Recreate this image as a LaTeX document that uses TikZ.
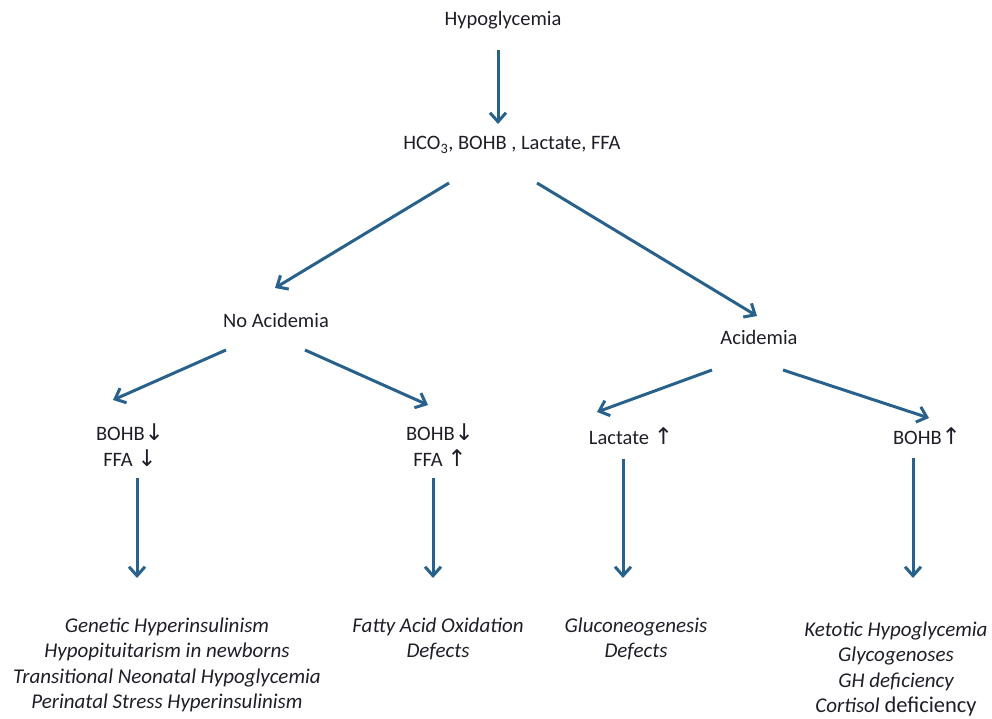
\documentclass[tikz,border=0pt]{standalone}
\usepackage{fontspec}
\setmainfont{Carlito}
\newfontfamily\arrfont{DejaVu Sans}
\usetikzlibrary{arrows.meta}
\definecolor{arrowblue}{RGB}{40,98,140}
\definecolor{txtdark}{RGB}{30,30,40}
\newcommand{\dn}{{\arrfont\fontsize{23}{20}\selectfont↓}}
\newcommand{\up}{{\arrfont\fontsize{23}{20}\selectfont↑}}
\begin{document}
\begin{tikzpicture}[x=1pt,y=-1pt,
  lbl/.style={inner sep=0, text height=14, text depth=4, align=center, text=txtdark,
    font=\fontsize{20.5}{25.5}\selectfont},
  multi/.style={inner sep=0, align=center, text=txtdark,
    font=\fontsize{20.5}{25.5}\selectfont},
  dx/.style={multi, font=\fontsize{21}{25.5}\selectfont\itshape},
  arr/.style={draw=arrowblue, line width=3, -{Straight Barb[length=9pt,width=16pt,line width=3]}}]
\useasboundingbox (0,0) rectangle (992,719);
\node[lbl] (hypo) at (503,21) {Hypoglycemia};
\node[lbl] (labs) at (512,145) {HCO\textsubscript{3}, BOHB , Lactate, FFA};
\node[lbl] (noacid) at (276,322) {No Acidemia};
\node[lbl] (acid) at (759,339) {Acidemia};
\node[multi] (lowlow) at (130,445) {BOHB\dn\\FFA \dn};
\node[multi] (lowhigh) at (440,445) {BOHB\dn\\FFA \up};
\node[lbl] (lact) at (631,439) {Lactate \up};
\node[lbl] (ketone) at (927,439) {BOHB\up};
\node[dx] (hyperins) at (167,665) {Genetic Hyperinsulinism\\Hypopituitarism in newborns\\Transitional Neonatal Hypoglycemia\\Perinatal Stress Hyperinsulinism};
\node[dx] (fao) at (438,639) {Fatty Acid Oxidation\\Defects};
\node[dx] (gng) at (636,639) {Gluconeogenesis\\Defects};
\node[dx] (ketotic) at (896,669) {Ketotic Hypoglycemia\\Glycogenoses\\GH deficiency\\Cortisol {\upshape\fontsize{22.5}{25.5}\selectfont deficiency}};
\draw[arr] ([shift={(-5,29)}]hypo.center) -- ([shift={(-14,-21)}]labs.center);
\draw[arr] ([shift={(-63,38)}]labs.center) -- ([shift={(-1,-34)}]noacid.center);
\draw[arr] ([shift={(25,38)}]labs.center) -- ([shift={(-2,-23)}]acid.center);
\draw[arr] ([shift={(-50,28)}]noacid.center) -- ([shift={(-17,-45)}]lowlow.center);
\draw[arr] ([shift={(29,28)}]noacid.center) -- ([shift={(-12,-40)}]lowhigh.center);
\draw[arr] ([shift={(-47,31)}]acid.center) -- ([shift={(-34,-27)}]lact.center);
\draw[arr] ([shift={(24,31)}]acid.center) -- ([shift={(2,-21)}]ketone.center);
\draw[arr] ([shift={(7,33)}]lowlow.center) -- ([shift={(-30,-87)}]hyperins.center);
\draw[arr] ([shift={(-7,33)}]lowhigh.center) -- ([shift={(-5,-61)}]fao.center);
\draw[arr] ([shift={(-8,20)}]lact.center) -- ([shift={(-13,-61)}]gng.center);
\draw[arr] ([shift={(-14,19)}]ketone.center) -- ([shift={(17,-91)}]ketotic.center);
\end{tikzpicture}
\end{document}
